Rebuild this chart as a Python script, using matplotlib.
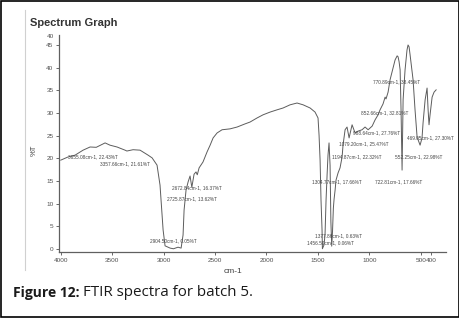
import matplotlib
matplotlib.use("Agg")
import matplotlib.pyplot as plt
from matplotlib.patches import Rectangle
from matplotlib.lines import Line2D

# ---- data (wavenumber cm-1, %T) ----
wavenumber = [4000, 3929, 3861, 3783, 3715, 3655, 3569, 3521, 3453, 3375, 3357,
              3297, 3229, 3151, 3112, 3064, 3035, 3005, 2986, 2937, 2904.5, 2860,
              2830, 2811, 2801, 2782, 2762, 2743, 2725.87, 2704, 2685, 2672.84,
              2655, 2617, 2578, 2548, 2519, 2480, 2432, 2354, 2286, 2208, 2160,
              2092, 2033, 1965, 1897, 1839, 1771, 1703, 1644, 1576, 1528, 1499,
              1489, 1479, 1470, 1460, 1456.5, 1441, 1431, 1421, 1411, 1402, 1392,
              1382, 1374, 1366, 1358, 1350, 1343, 1333, 1324, 1304, 1285, 1265,
              1256, 1236, 1217, 1197, 1168, 1139, 1110, 1071, 1042, 1012, 973,
              944, 915, 896, 867, 847, 838, 818, 799, 770, 750, 730, 721, 711,
              701, 692, 682, 672, 653, 634, 624, 614, 604, 575, 556, 536, 507,
              488, 478, 458, 439, 429, 420, 410, 390, 371, 351]
transmittance = [19.6, 20.3, 20.7, 21.8, 22.5, 22.43, 23.4, 22.9, 22.5, 21.8, 21.61,
                 21.9, 21.8, 20.7, 20.1, 18.5, 14.1, 4.2, 0.7, 0.2, 0.05, 0.4,
                 0.2, 3.1, 8.6, 13.0, 14.8, 16.1, 13.62, 16.5, 17.0, 16.37,
                 17.9, 19.2, 21.4, 22.9, 24.5, 25.6, 26.3, 26.5, 26.9, 27.6, 28.0,
                 28.9, 29.6, 30.2, 30.7, 31.1, 31.8, 32.2, 31.8, 31.1, 30.2, 28.9,
                 25.1, 19.6, 10.8, 4.2, 0.06, 0.9, 3.1, 10.8, 16.3, 20.7, 23.4,
                 18.5, 6.0, 0.63, 4.0, 9.0, 11.0, 13.0, 15.2, 16.8, 17.9, 20.3,
                 22.9, 26.3, 26.9, 24.5, 27.4, 25.6, 26.0, 26.3, 26.9, 26.3, 27.1,
                 28.5, 29.6, 30.7, 32.0, 33.5, 33.1, 34.6, 37.3, 39.9, 41.7, 42.6,
                 42.4, 41.3, 39.5, 30.7, 17.4, 32.9, 39.5, 43.9, 45.0, 44.6, 42.8,
                 37.3, 30.7, 24.7, 22.9, 24.5, 27.8, 32.9, 35.5, 30.7, 27.4, 29.6,
                 33.5, 34.6, 35.1]

x_ticks = [4000, 3500, 3000, 2500, 2000, 1500, 1000, 500, 400]
y_ticks = [0, 5, 10, 15, 20, 25, 30, 35, 40, 45]

# peak labels: text and position (wavenumber, %T) where the text starts
peak_labels = ["3655.08cm-1, 22.43%T", "3357.66cm-1, 21.61%T",
               "2672.84cm-1, 16.37%T", "2725.87cm-1, 13.62%T",
               "2904.50cm-1, 0.05%T", "1377.86cm-1, 0.63%T",
               "1456.50cm-1, 0.06%T", "1304.77cm-1, 17.66%T",
               "722.81cm-1, 17.66%T", "1194.87cm-1, 22.32%T",
               "552.25cm-1, 22.98%T", "1079.20cm-1, 25.47%T",
               "988.64cm-1, 27.76%T", "469.05cm-1, 27.30%T",
               "852.66cm-1, 32.81%T", "770.89cm-1, 38.45%T"]
label_wn = [3930, 3618, 2918, 2967, 3132, 1528, 1606, 1558,
            945, 1363, 751, 1295, 1159, 630, 1081, 965]
label_t = [20.3, 18.75, 13.5, 11.0, 1.76, 2.87, 1.3, 14.8,
           14.8, 20.3, 20.3, 23.2, 25.6, 24.5, 30.0, 36.8]

# ---- figure ----
W, H = 460, 318
fig = plt.figure(figsize=(W / 100, H / 100), dpi=100)
fig.patch.set_facecolor("white")

def fx(px):
    return px / W

def fy(py):
    return 1 - py / H

AX_L, AX_R, AX_T, AX_B = 59, 446, 35, 252
ax = fig.add_axes([fx(AX_L), fy(AX_B), fx(AX_R) - fx(AX_L), fy(AX_T) - fy(AX_B)])
ax.plot(wavenumber, transmittance, color="#5c5c5c", lw=0.7)
ax.set_xlim(4017, 255)
ax.set_ylim(-0.66, 47.2)

ax.set_xticks(x_ticks)
ax.set_xticklabels([str(v) for v in x_ticks])
ax.set_yticks(y_ticks)
ax.set_yticklabels([str(v) for v in y_ticks])

for s in ["top", "right"]:
    ax.spines[s].set_visible(False)
for s in ["left", "bottom"]:
    ax.spines[s].set_color("#606060")
    ax.spines[s].set_linewidth(0.9)

fam = ["Liberation Sans", "DejaVu Sans"]
ax.tick_params(axis="both", labelsize=4.6, length=2.5, width=0.6,
               colors="#505050", pad=1.5)
for lab in ax.get_xticklabels() + ax.get_yticklabels():
    lab.set_family(fam)

# stray top label from the scan
ax.text(-0.012, 46.8, "40", transform=ax.get_yaxis_transform(),
        ha="right", va="center", fontsize=4.6, color="#505050", family=fam)

ax.set_ylabel("%T", fontsize=5.5, color="#404040", family=fam)
ax.yaxis.set_label_coords(-(AX_L - 38) / (AX_R - AX_L), (AX_B - 150) / (AX_B - AX_T))
ax.set_xlabel("cm-1", fontsize=6, color="#404040", family=fam)
ax.xaxis.set_label_coords((233 - AX_L) / (AX_R - AX_L), -(268 - AX_B) / (AX_B - AX_T))

for txt, xw, yt in zip(peak_labels, label_wn, label_t):
    ax.text(xw, yt, txt, fontsize=3.4, color="#444444", family=fam,
            ha="left", va="center")

# title
fig.text(fx(30), fy(23), "Spectrum Graph", fontsize=8, fontweight="bold",
         color="#333333", family=fam, ha="left", va="center")

# scan edge line
fig.add_artist(Line2D([fx(25), fx(25)], [fy(10), fy(270)], color="#d0d0d0", lw=0.8))

# caption
cap_fam = ["Open Sans", "DejaVu Sans"]
t1 = fig.text(fx(13), fy(293), "Figure 12:", fontsize=10, fontweight="bold",
              color="#1a1a1a", family=cap_fam, ha="left", va="center")
fig.canvas.draw()
bb = t1.get_window_extent(renderer=fig.canvas.get_renderer())
fig.text(bb.x1 / W + fx(4), fy(293), "FTIR spectra for batch 5.", fontsize=10.9,
         color="#1a1a1a", family=cap_fam, ha="left", va="center")

# outer border
fig.add_artist(Rectangle((0.002, 0.003), 0.995, 0.994, transform=fig.transFigure,
                         fill=False, edgecolor="black", lw=1.2))

fig.savefig("out.png", dpi=100)
